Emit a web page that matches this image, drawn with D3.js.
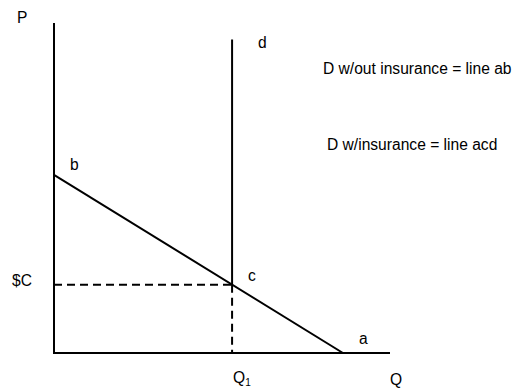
<!DOCTYPE html>
<html>
<head>
<meta charset="utf-8">
<script src="https://cdn.jsdelivr.net/npm/d3@7"></script>
<style>
  html, body { margin: 0; padding: 0; background: #fff; }
  svg text { font-family: "Liberation Sans", Arial, sans-serif; fill: #000; }
</style>
</head>
<body>
<svg id="chart" width="521" height="389"></svg>
<script>
// Demand without insurance: straight line from b (price intercept) to a (quantity intercept)
const demandNoIns = [
  { name: "b", q: 0, p: 54 },
  { name: "a", q: 86, p: 0 }
];
// Quantity covered by insurance and the matching price point c
const q1 = 53;
const priceC = 20.7;
// Perfectly inelastic section c–d above Q1
const dTop = 95;
// Axis extents
const qMax = 100;
const pMax = 100;

const legendLines = [
  "D w/out insurance = line ab",
  "D w/insurance = line acd"
];

const svg = d3.select("#chart");
const x = d3.scaleLinear().domain([0, qMax]).range([54, 390]);
const y = d3.scaleLinear().domain([0, pMax]).range([353, 23]);

const line = d3.line().x(d => x(d.q)).y(d => y(d.p));
const stroke = "#000";

// Axes
svg.append("path")
  .attr("d", line([{ q: 0, p: pMax }, { q: 0, p: 0 }, { q: qMax, p: 0 }]))
  .attr("fill", "none").attr("stroke", stroke).attr("stroke-width", 2);

// Dashed guides to $C and Q1
svg.append("path")
  .attr("d", line([{ q: 0, p: priceC }, { q: q1, p: priceC }]))
  .attr("fill", "none").attr("stroke", stroke).attr("stroke-width", 2)
  .attr("stroke-dasharray", "8,5");
svg.append("path")
  .attr("d", line([{ q: q1, p: priceC }, { q: q1, p: 0 }]))
  .attr("fill", "none").attr("stroke", stroke).attr("stroke-width", 2)
  .attr("stroke-dasharray", "8,5");

// Demand line ab
svg.append("path")
  .attr("d", line(demandNoIns))
  .attr("fill", "none").attr("stroke", stroke).attr("stroke-width", 2);

// Vertical segment c–d
svg.append("path")
  .attr("d", line([{ q: q1, p: priceC }, { q: q1, p: dTop }]))
  .attr("fill", "none").attr("stroke", stroke).attr("stroke-width", 2);

// Labels
const fs = 15.6;
function label(txt, px, py, dx, dy) {
  return svg.append("text")
    .attr("x", x(px) + dx).attr("y", y(py) + dy)
    .attr("font-size", fs).text(txt);
}
label("P", 0, pMax, -37, 0);
label("Q", qMax, 0, 0, 32);
label("b", demandNoIns[0].q, demandNoIns[0].p, 16, -5);
label("a", demandNoIns[1].q, demandNoIns[1].p, 16, -9);
label("c", q1, priceC, 16, -4);
label("d", q1, dTop, 26, 8);
label("$C", 0, priceC, -42, 1);

const q1Label = label("Q", q1, 0, 1, 30);
q1Label.append("tspan").attr("font-size", 10).attr("dy", 3).text("1");

legendLines.forEach((t, i) => {
  svg.append("text")
    .attr("x", i === 0 ? 323 : 327)
    .attr("y", i === 0 ? 74 : 150)
    .attr("font-size", fs)
    .text(t);
});
</script>
</body>
</html>
